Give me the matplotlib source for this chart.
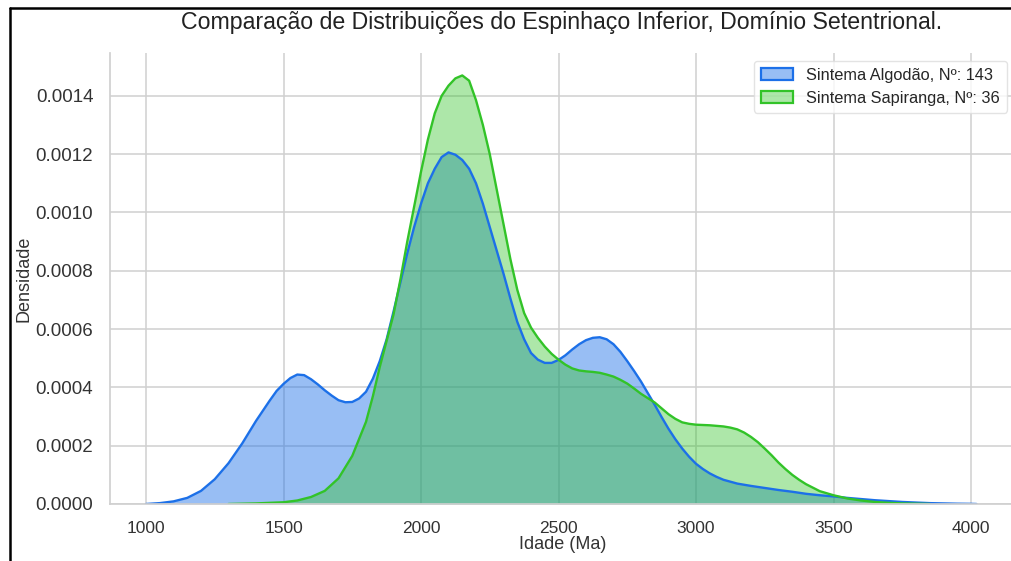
import matplotlib
matplotlib.use("Agg")
import matplotlib.pyplot as plt
import seaborn as sns
from matplotlib.lines import Line2D
from matplotlib.patches import Patch
from matplotlib.ticker import FormatStrFormatter
from matplotlib.colors import to_rgba

# ---- data ----
age_blue = [1000, 1050, 1100, 1150, 1200, 1250, 1300, 1350, 1400, 1450, 1475, 1500, 1525,
            1550, 1575, 1600, 1625, 1650, 1675, 1700, 1725, 1750, 1775, 1800, 1825, 1850,
            1875, 1900, 1925, 1950, 1975, 2000, 2025, 2050, 2075, 2100, 2125, 2150, 2175,
            2200, 2225, 2250, 2275, 2300, 2325, 2350, 2375, 2400, 2425, 2450, 2475, 2500,
            2525, 2550, 2575, 2600, 2625, 2650, 2675, 2700, 2725, 2750, 2775, 2800, 2825,
            2850, 2875, 2900, 2925, 2950, 2975, 3000, 3025, 3050, 3075, 3100, 3150, 3200,
            3250, 3300, 3350, 3400, 3450, 3500, 3550, 3600, 3650, 3700, 3750, 3800, 3850,
            3900, 3950, 4000, 4020]
dens_blue = [0.0, 0.000003, 0.000009, 0.000021, 0.000045, 0.000085, 0.000140, 0.000208,
             0.000285, 0.000355, 0.000388, 0.000412, 0.000432, 0.000444, 0.000442, 0.000428,
             0.000410, 0.000390, 0.000372, 0.000356, 0.000349, 0.000350, 0.000362, 0.000385,
             0.000430, 0.000490, 0.000565, 0.000660, 0.000760, 0.000860, 0.000950, 0.001030,
             0.001100, 0.001150, 0.001190, 0.001206, 0.001198, 0.001180, 0.001150, 0.001100,
             0.001030, 0.000950, 0.000870, 0.000790, 0.000705, 0.000625, 0.000565, 0.000518,
             0.000495, 0.000484, 0.000484, 0.000494, 0.000510, 0.000530, 0.000548, 0.000562,
             0.000570, 0.000572, 0.000565, 0.000548, 0.000522, 0.000490, 0.000456, 0.000420,
             0.000380, 0.000340, 0.000298, 0.000258, 0.000222, 0.000190, 0.000162, 0.000138,
             0.000120, 0.000105, 0.000093, 0.000083, 0.000070, 0.000062, 0.000055, 0.000048,
             0.000042, 0.000035, 0.000030, 0.000026, 0.000021, 0.000017, 0.000013, 0.000010,
             0.000007, 0.000005, 0.000003, 0.000002, 0.000001, 0.0000005, 0.0]

age_green = [1300, 1350, 1400, 1450, 1500, 1550, 1600, 1650, 1700, 1750, 1800, 1825, 1850,
             1875, 1900, 1925, 1950, 1975, 2000, 2025, 2050, 2075, 2100, 2125, 2150, 2175,
             2200, 2225, 2250, 2275, 2300, 2325, 2350, 2375, 2400, 2425, 2450, 2475, 2500,
             2525, 2550, 2575, 2600, 2625, 2650, 2675, 2700, 2725, 2750, 2775, 2800, 2825,
             2850, 2875, 2900, 2925, 2950, 2975, 3000, 3025, 3050, 3075, 3100, 3125, 3150,
             3175, 3200, 3225, 3250, 3275, 3300, 3325, 3350, 3375, 3400, 3450, 3500, 3550,
             3600, 3650, 3700, 3750, 3800, 3850]
dens_green = [0.0, 0.000001, 0.000002, 0.000004, 0.000006, 0.000012, 0.000024, 0.000045,
              0.000088, 0.000165, 0.000282, 0.000370, 0.000470, 0.000560, 0.000650, 0.000770,
              0.000900, 0.001020, 0.001140, 0.001250, 0.001340, 0.001400, 0.001435, 0.001460,
              0.001470, 0.001452, 0.001385, 0.001300, 0.001200, 0.001080, 0.000960, 0.000840,
              0.000735, 0.000655, 0.000605, 0.000570, 0.000540, 0.000515, 0.000495, 0.000478,
              0.000465, 0.000458, 0.000455, 0.000453, 0.000450, 0.000444, 0.000437, 0.000426,
              0.000413, 0.000396, 0.000378, 0.000363, 0.000348, 0.000328, 0.000308, 0.000292,
              0.000280, 0.000275, 0.000272, 0.000271, 0.000270, 0.000268, 0.000266, 0.000262,
              0.000256, 0.000245, 0.000230, 0.000212, 0.000190, 0.000167, 0.000142, 0.000120,
              0.000100, 0.000083, 0.000068, 0.000044, 0.000030, 0.000019, 0.000012, 0.000007,
              0.000004, 0.000002, 0.000001, 0.0]

labels = ["Sintema Algodão, Nº: 143", "Sintema Sapiranga, Nº: 36"]
x_ticks = [1000, 1500, 2000, 2500, 3000, 3500, 4000]
y_ticks = [0.0, 0.0002, 0.0004, 0.0006, 0.0008, 0.0010, 0.0012, 0.0014]
title = "Comparação de Distribuições do Espinhaço Inferior, Domínio Setentrional."

# ---- style ----
sns.set_theme(style="whitegrid")
plt.rcParams["font.family"] = ["Liberation Sans", "DejaVu Sans"]

blue = "#1c70e8"
green = "#32c328"
a_blue = 0.45
a_green = 0.40

fig = plt.figure(figsize=(10.12, 5.61), dpi=100)
ax = fig.add_axes([110 / 1012, 1 - 504 / 561, (1015 - 110) / 1012, (504 - 53) / 561])

ax.fill_between(age_blue, dens_blue, 0, color=blue, alpha=a_blue, linewidth=0)
ax.plot(age_blue, dens_blue, color=blue, lw=1.7, solid_joinstyle="round")
ax.fill_between(age_green, dens_green, 0, color=green, alpha=a_green, linewidth=0)
ax.plot(age_green, dens_green, color=green, lw=1.7, solid_joinstyle="round")

ax.set_xlim(869, 4160)
ax.set_ylim(0, 0.001547)
ax.set_xticks(x_ticks)
ax.set_yticks(y_ticks)
ax.yaxis.set_major_formatter(FormatStrFormatter("%.4f"))
ax.tick_params(axis="x", labelsize=12.5, colors="#333333", pad=6)
ax.tick_params(axis="y", labelsize=13.5, colors="#333333", pad=6)
ax.grid(True, color="#d0d0d0", lw=1.1)
ax.set_axisbelow(True)
for s in ["top", "right"]:
    ax.spines[s].set_visible(False)
for s in ["left", "bottom"]:
    ax.spines[s].set_color("#d0d0d0")
ax.set_xlabel("Idade (Ma)", fontsize=13, color="#333333", labelpad=0)
ax.set_ylabel("Densidade", fontsize=13, color="#333333", labelpad=2)

handles = [Patch(facecolor=to_rgba(blue, a_blue), edgecolor=blue, lw=1.6),
           Patch(facecolor=to_rgba(green, a_green), edgecolor=green, lw=1.6)]
leg = ax.legend(handles, labels, loc="upper right", fontsize=11.8, frameon=True)
leg.get_frame().set_edgecolor("#dddddd")

fig.text(562 / 1012, 1 - 22 / 561, title, ha="center", va="center", fontsize=16.7, color="#222222")

# screenshot frame lines
fig.add_artist(Line2D([10 / 1012, 10 / 1012], [0, 1 - 8 / 561], transform=fig.transFigure,
                      color="black", lw=1.8))
fig.add_artist(Line2D([10 / 1012, 1.0], [1 - 8 / 561, 1 - 8 / 561], transform=fig.transFigure,
                      color="black", lw=1.8))

fig.savefig("out.png", dpi=100)
